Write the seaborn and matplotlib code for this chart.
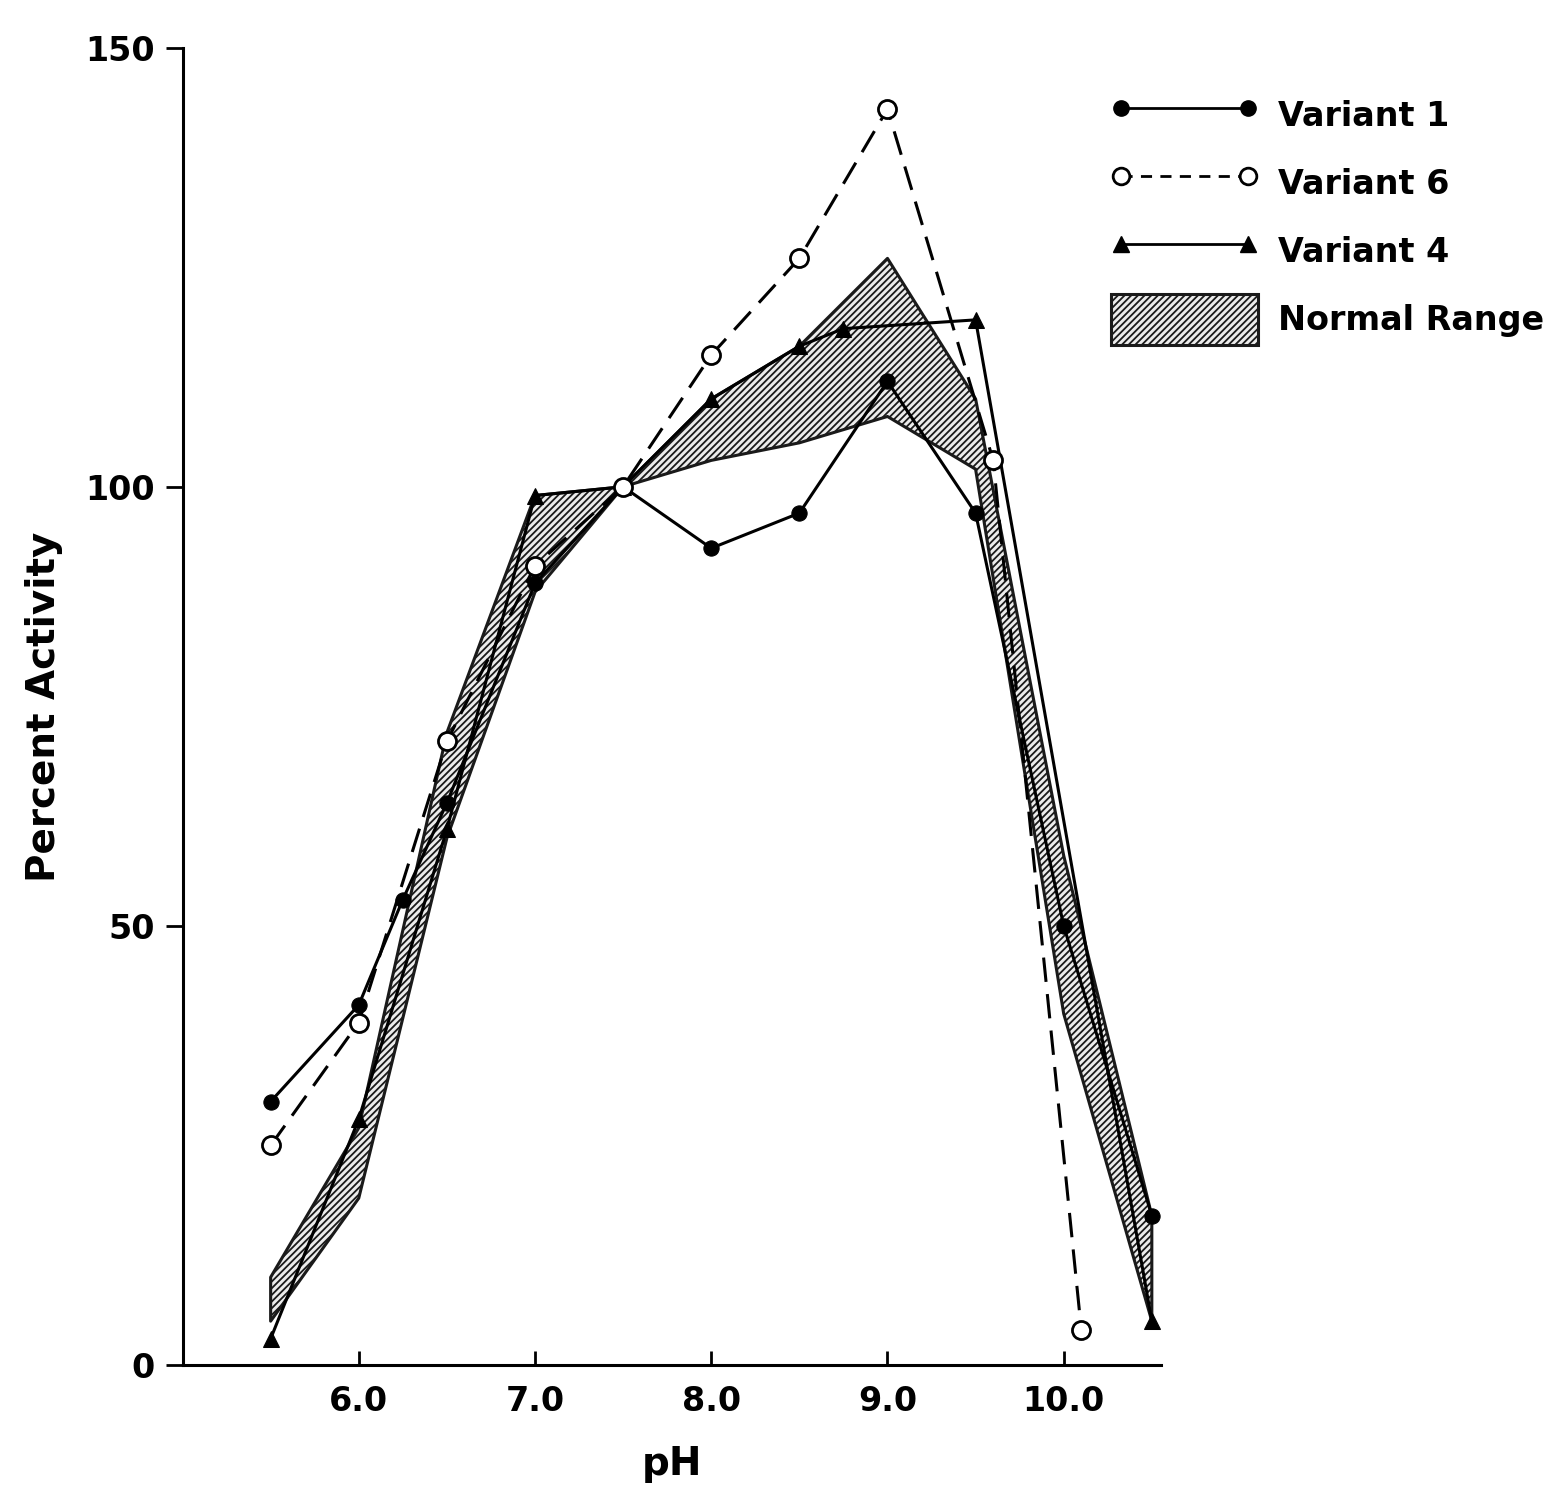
import seaborn as sns
import matplotlib.pyplot as plt
from matplotlib.lines import Line2D
from matplotlib.patches import Patch

# pH values and percent activity
ph_v1 = [5.5, 6.0, 6.25, 6.5, 7.0, 7.5, 8.0, 8.5, 9.0, 9.5, 10.0, 10.5]
act_v1 = [30, 41, 53, 64, 89, 100, 93, 97, 112, 97, 50, 17]

ph_v6 = [5.5, 6.0, 6.5, 7.0, 7.5, 8.0, 8.5, 9.0, 9.6, 10.1]
act_v6 = [25, 39, 71, 91, 100, 115, 126, 143, 103, 4]

ph_v4 = [5.5, 6.0, 6.5, 7.0, 7.5, 8.0, 8.5, 8.75, 9.5, 10.5]
act_v4 = [3, 28, 61, 99, 100, 110, 116, 118, 119, 5]

ph_band = [5.5, 6.0, 6.5, 7.0, 7.5, 8.0, 8.5, 9.0, 9.5, 10.0, 10.5]
band_hi = [10, 27, 72, 99, 100, 110, 116, 126, 110, 58, 17]
band_lo = [5, 19, 60, 88, 100, 103, 105, 108, 102, 40, 5]

sns.set_style("ticks")
plt.rcParams['font.family'] = ['DejaVu Sans']
plt.rcParams['font.weight'] = 'bold'
plt.rcParams['text.color'] = 'black'
plt.rcParams['axes.labelcolor'] = 'black'
plt.rcParams['xtick.color'] = 'black'
plt.rcParams['ytick.color'] = 'black'
plt.rcParams['axes.edgecolor'] = 'black'
plt.rcParams['hatch.linewidth'] = 1.3

fig = plt.figure(figsize=(15.6, 14.87), dpi=100)
ax = fig.add_axes([0.117, 0.082, 0.627, 0.886])

# normal range band
ax.fill_between(ph_band, band_lo, band_hi, facecolor='#ececec', edgecolor='#1a1a1a',
                hatch='/////', linewidth=2.2, zorder=1)

sns.lineplot(x=ph_v1, y=act_v1, ax=ax, color='black', marker='o', markersize=11,
             markerfacecolor='black', markeredgecolor='black', linewidth=2.2, zorder=3)
sns.lineplot(x=ph_v6, y=act_v6, ax=ax, color='black', marker='o', markersize=13,
             markerfacecolor='white', markeredgecolor='black', markeredgewidth=2,
             linestyle=(0, (8, 4)), linewidth=2.2, zorder=4)
sns.lineplot(x=ph_v4, y=act_v4, ax=ax, color='black', marker='^', markersize=11,
             markerfacecolor='black', markeredgecolor='black', linewidth=2.2, zorder=3)

ax.set_xlim(5.0, 10.55)
ax.set_ylim(0, 150)
ax.set_xticks([6, 7, 8, 9, 10])
ax.set_xticklabels(['6.0', '7.0', '8.0', '9.0', '10.0'])
ax.set_yticks([0, 50, 100, 150])
ax.tick_params(axis='x', direction='in', length=10, width=2, labelsize=24, pad=14)
ax.tick_params(axis='y', direction='out', length=12, width=2, labelsize=24, pad=8)
for lab in ax.get_xticklabels() + ax.get_yticklabels():
    lab.set_fontweight('bold')
sns.despine(ax=ax)
ax.spines['left'].set_linewidth(2.2)
ax.spines['bottom'].set_linewidth(2.2)

ax.set_xlabel('pH', fontsize=28, fontweight='bold', labelpad=20)
ax.set_ylabel('Percent Activity', fontsize=28, fontweight='bold', labelpad=16)

handles = [
    Line2D([0], [0], color='black', marker='o', markersize=11, linewidth=2),
    Line2D([0], [0], color='black', marker='o', markersize=12, markerfacecolor='white',
           markeredgewidth=2, linestyle=(0, (4, 3)), linewidth=2),
    Line2D([0], [0], color='black', marker='^', markersize=11, linewidth=2),
    Patch(facecolor='#ececec', edgecolor='#1a1a1a', hatch='/////', linewidth=2.2),
]
labels = ['Variant 1', 'Variant 6', 'Variant 4', 'Normal Range']
fig.legend(handles, labels, loc='upper left', bbox_to_anchor=(0.693, 0.96),
           frameon=False, numpoints=2, handlelength=4.4, handleheight=2.0,
           handletextpad=0.6, labelspacing=0.5, prop={'size': 24, 'weight': 'bold'})

fig.savefig('out.png', dpi=100)
